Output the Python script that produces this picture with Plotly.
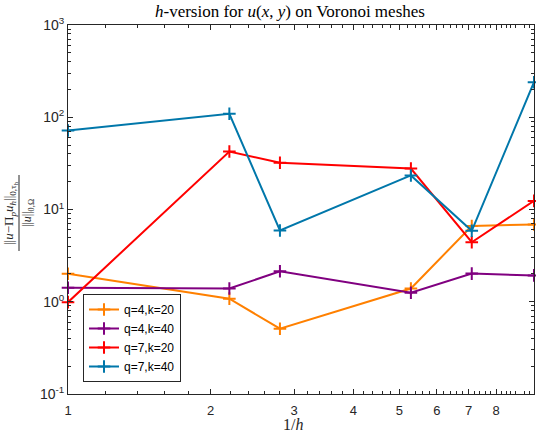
import plotly.graph_objects as go
import math

# data
inv_h = [1.0, 2.19, 2.80, 5.29, 7.11, 9.62]
series_names = ["q=4,k=20", "q=4,k=40", "q=7,k=20", "q=7,k=40"]
err_q4_k20 = [2.01, 1.08, 0.51, 1.39, 6.63, 6.88]
err_q4_k40 = [1.42, 1.39, 2.14, 1.25, 2.02, 1.93]
err_q7_k20 = [0.99, 42.5, 32.1, 27.8, 4.42, 12.4]
err_q7_k40 = [71.8, 109.0, 5.92, 23.4, 5.88, 240.0]
colors = ["#FF8000", "#800080", "#FF0000", "#0077AA"]

x_ticks = [1, 2, 3, 4, 5, 6, 7, 8]
x_minor = [round(a + b / 10, 1) for a in range(1, 10) for b in (2, 4, 6, 8)]
x_minor = [v for v in x_minor if v < 9.62]
y_ticks = [0.1, 1, 10, 100, 1000]
y_ticklabels = ["10<sup>-1</sup>", "10<sup>0</sup>", "10<sup>1</sup>", "10<sup>2</sup>", "10<sup>3</sup>"]
y_minor = [m * 10 ** e for e in range(-1, 3) for m in range(2, 10)]

W, H = 536, 437
L, R, T, B = 68, 2, 25, 43
pw, ph = W - L - R, H - T - B

def px(xp):
    return (xp - L) / pw

def py(yp):
    return (H - B - yp) / ph

fig = go.Figure()
for name, vals, col in zip(series_names, [err_q4_k20, err_q4_k40, err_q7_k20, err_q7_k40], colors):
    fig.add_trace(go.Scatter(
        x=inv_h, y=vals, name=name, mode="lines+markers",
        line=dict(color=col, width=2),
        marker=dict(symbol="cross-thin", size=9, line=dict(color=col, width=2)),
        cliponaxis=False,
    ))

axis_col = "#262626"
fig.update_xaxes(
    type="log", range=[0, math.log10(inv_h[-1])],
    tickmode="array", tickvals=x_ticks, ticktext=[str(v) for v in x_ticks],
    ticks="inside", ticklen=5, tickcolor=axis_col, tickwidth=1,
    minor=dict(tickmode="array", tickvals=x_minor, ticks="inside", ticklen=3, tickcolor=axis_col),
    showline=True, linecolor=axis_col, linewidth=1, mirror="allticks",
    showgrid=False, zeroline=False, ticklabelstandoff=4,
    tickfont=dict(family="Liberation Sans", size=13, color="#262626"),
)
fig.update_yaxes(
    type="log", range=[-1, 3],
    tickmode="array", tickvals=y_ticks, ticktext=y_ticklabels,
    ticks="inside", ticklen=5, tickcolor=axis_col, tickwidth=1,
    minor=dict(tickmode="array", tickvals=y_minor, ticks="inside", ticklen=3, tickcolor=axis_col),
    showline=True, linecolor=axis_col, linewidth=1, mirror="allticks",
    showgrid=False, zeroline=False,
    tickfont=dict(family="Liberation Sans", size=14, color="#262626"),
)

serif = "Liberation Serif"
annotations = [
    dict(text="<i>h</i>-version for <i>u</i>(<i>x</i>, <i>y</i>) on Voronoi meshes",
         x=px(290), y=py(12), xref="paper", yref="paper", showarrow=False,
         font=dict(family=serif, size=17, color="#000"), xanchor="center", yanchor="middle"),
    dict(text="1/<i>h</i>",
         x=px(293), y=py(424), xref="paper", yref="paper", showarrow=False,
         font=dict(family=serif, size=16, color="#262626"), xanchor="center", yanchor="middle"),
    dict(text="||<i>u</i>−Π<sub><i>p</i></sub><i>u</i><sub><i>h</i></sub>||<sub>0,τ<sub>h</sub></sub>",
         x=px(10), y=py(213), xref="paper", yref="paper", showarrow=False, textangle=-90,
         font=dict(family=serif, size=13, color="#262626"), xanchor="center", yanchor="middle"),
    dict(text="||<i>u</i>||<sub>0,Ω</sub>",
         x=px(28), y=py(213), xref="paper", yref="paper", showarrow=False, textangle=-90,
         font=dict(family=serif, size=12, color="#262626"), xanchor="center", yanchor="middle"),
]
shapes = [dict(type="line", xref="paper", yref="paper", x0=px(19), x1=px(19), y0=py(175), y1=py(251),
               line=dict(color="#262626", width=1))]

fig.update_layout(
    width=W, height=H, margin=dict(l=L, r=R, t=T, b=B),
    paper_bgcolor="white", plot_bgcolor="white",
    annotations=annotations, shapes=shapes,
    showlegend=True,
    legend=dict(x=px(83), y=py(382), xanchor="left", yanchor="bottom",
                bgcolor="white", bordercolor="#262626", borderwidth=1,
                font=dict(family="Liberation Sans", size=12, color="#000"),
                tracegroupgap=0, itemwidth=30),
)

fig.write_html("out.html", config={"displayModeBar": False},
               post_script="document.body.style.margin='0px';")
